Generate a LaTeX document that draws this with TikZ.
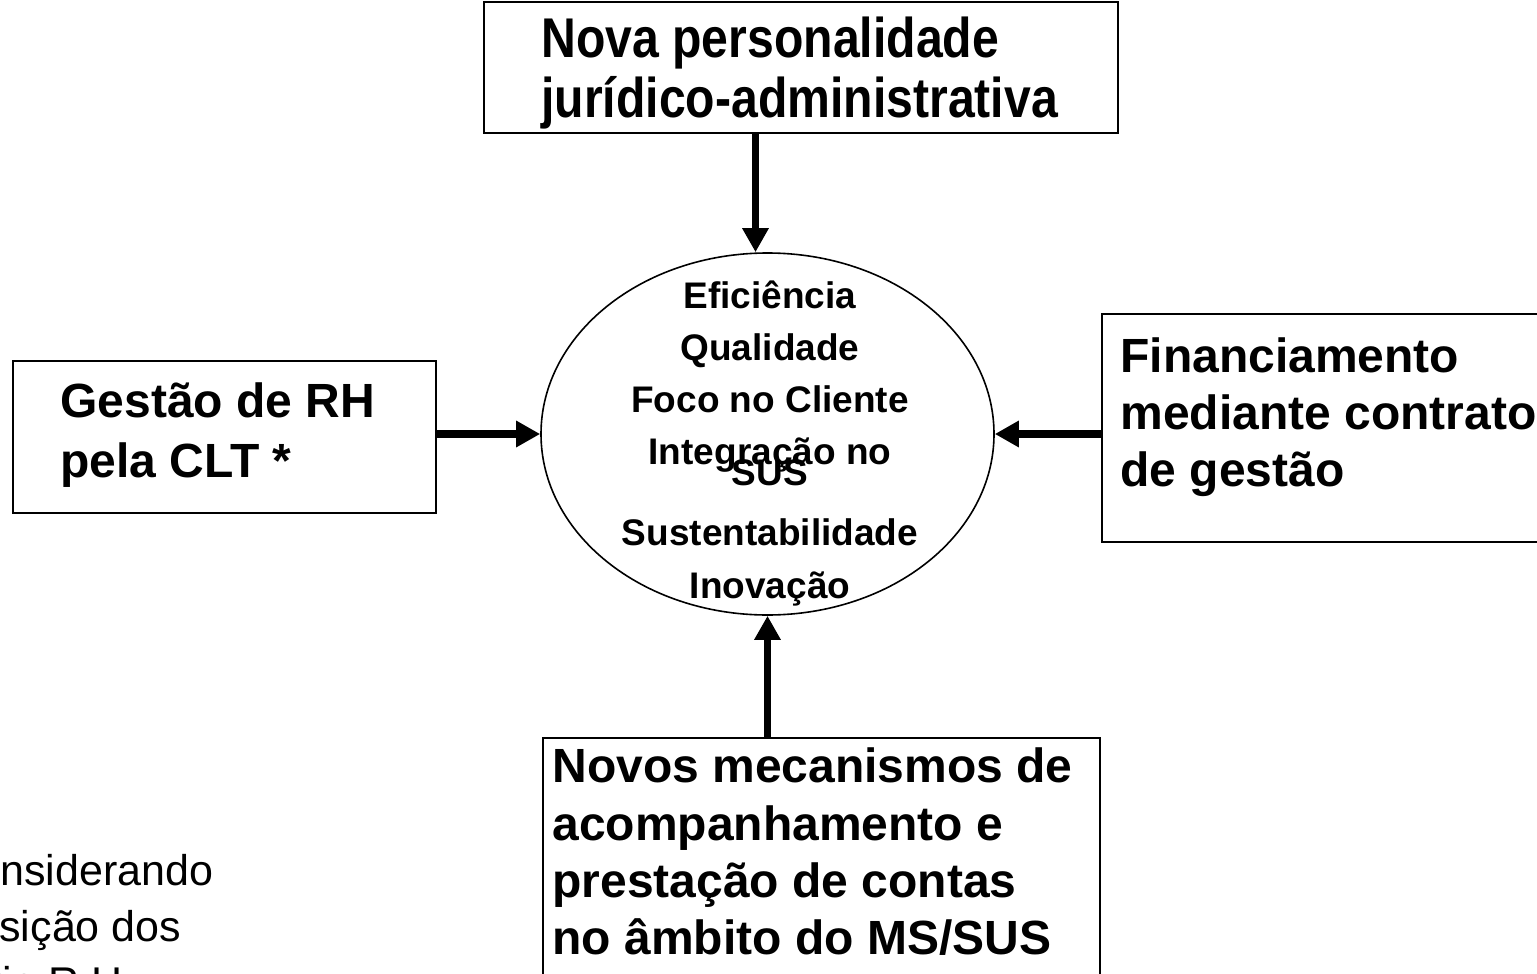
\documentclass[tikz,border=0pt]{standalone}
\usepackage{fontspec}
\setmainfont{Liberation Sans}
\newfontfamily\narrowfont[FakeStretch=0.86]{Liberation Sans}
\usetikzlibrary{arrows.meta,shapes.geometric}
\begin{document}
\begin{tikzpicture}[x=0.5pt,y=-0.5pt,
  box/.style={draw, line width=0.8pt, rectangle, anchor=north west, inner sep=0},
  arr/.style={line width=3.6pt, -{Triangle[length=12pt,width=12.5pt]}},
  bt/.style={inner sep=0, anchor=base west, font=\bfseries\fontsize{24pt}{29pt}\selectfont},
  nt/.style={inner sep=0, anchor=base west, font=\narrowfont\bfseries\fontsize{28pt}{30pt}\selectfont},
  et/.style={inner sep=0, anchor=base, font=\bfseries\fontsize{18.5pt}{22pt}\selectfont},
  rt/.style={inner sep=0, anchor=base west, font=\fontsize{21.5pt}{26pt}\selectfont}]
\useasboundingbox (0,0) rectangle (1537,974);
\clip (0,0) rectangle (1537,974);
% boxes
\node[box, minimum width=317pt, minimum height=65.5pt] (top) at (483,1) {};
\node[box, minimum width=211.5pt, minimum height=76pt] (left) at (12,360) {};
\node[box, minimum width=222pt, minimum height=114pt] (right) at (1101,313) {};
\node[box, minimum width=278.5pt, minimum height=131.5pt] (bottom) at (542,737) {};
% ellipse
\node[draw, ellipse, line width=0.8pt, inner sep=0, minimum width=226.5pt, minimum height=181pt] (ell) at (767.5,434) {};
% texts
\node[nt] (t1) at (541,58) {Nova personalidade};
\node[nt] (t2) at (541,118) {jurídico-administrativa};
\node[bt] (l1) at (60,417) {Gestão de RH};
\node[bt] (l2) at (60,477) {pela CLT *};
\node[bt] (r1) at (1120,372) {Financiamento};
\node[bt] (r2) at (1120,429) {mediante contrato};
\node[bt] (r3) at (1120,486) {de gestão};
\node[bt] (b1) at (552,782) {Novos mecanismos de};
\node[bt] (b2) at (552,840) {acompanhamento e};
\node[bt] (b3) at (552,897) {prestação de contas};
\node[bt] (b4) at (552,954) {no âmbito do MS/SUS};
\node[et] (e1) at (770,308) {Eficiência};
\node[et] (e2) at (770,360) {Qualidade};
\node[et] (e3) at (770,412) {Foco no Cliente};
\node[et] (e4) at (770,464) {Integração no};
\node[et] (e5) at (770,485) {SUS};
\node[et] (e6) at (770,545) {Sustentabilidade};
\node[et] (e7) at (770,598) {Inovação};
\node[rt] (n1) at (-55,885) {Considerando};
\node[rt] (n2) at (-75,941) {transição dos};
\node[rt] (n3) at (-98,997) {próprio R.H.};
% arrows
\draw[arr] ([xshift=-6pt]ell.north |- top.south) -- ([xshift=-6pt]ell.north);
\draw[arr] (ell.west -| left.east) -- (ell.west);
\draw[arr] (ell.east -| right.west) -- (ell.east);
\draw[arr] (ell.south |- bottom.north) -- (ell.south);
\end{tikzpicture}
\end{document}
